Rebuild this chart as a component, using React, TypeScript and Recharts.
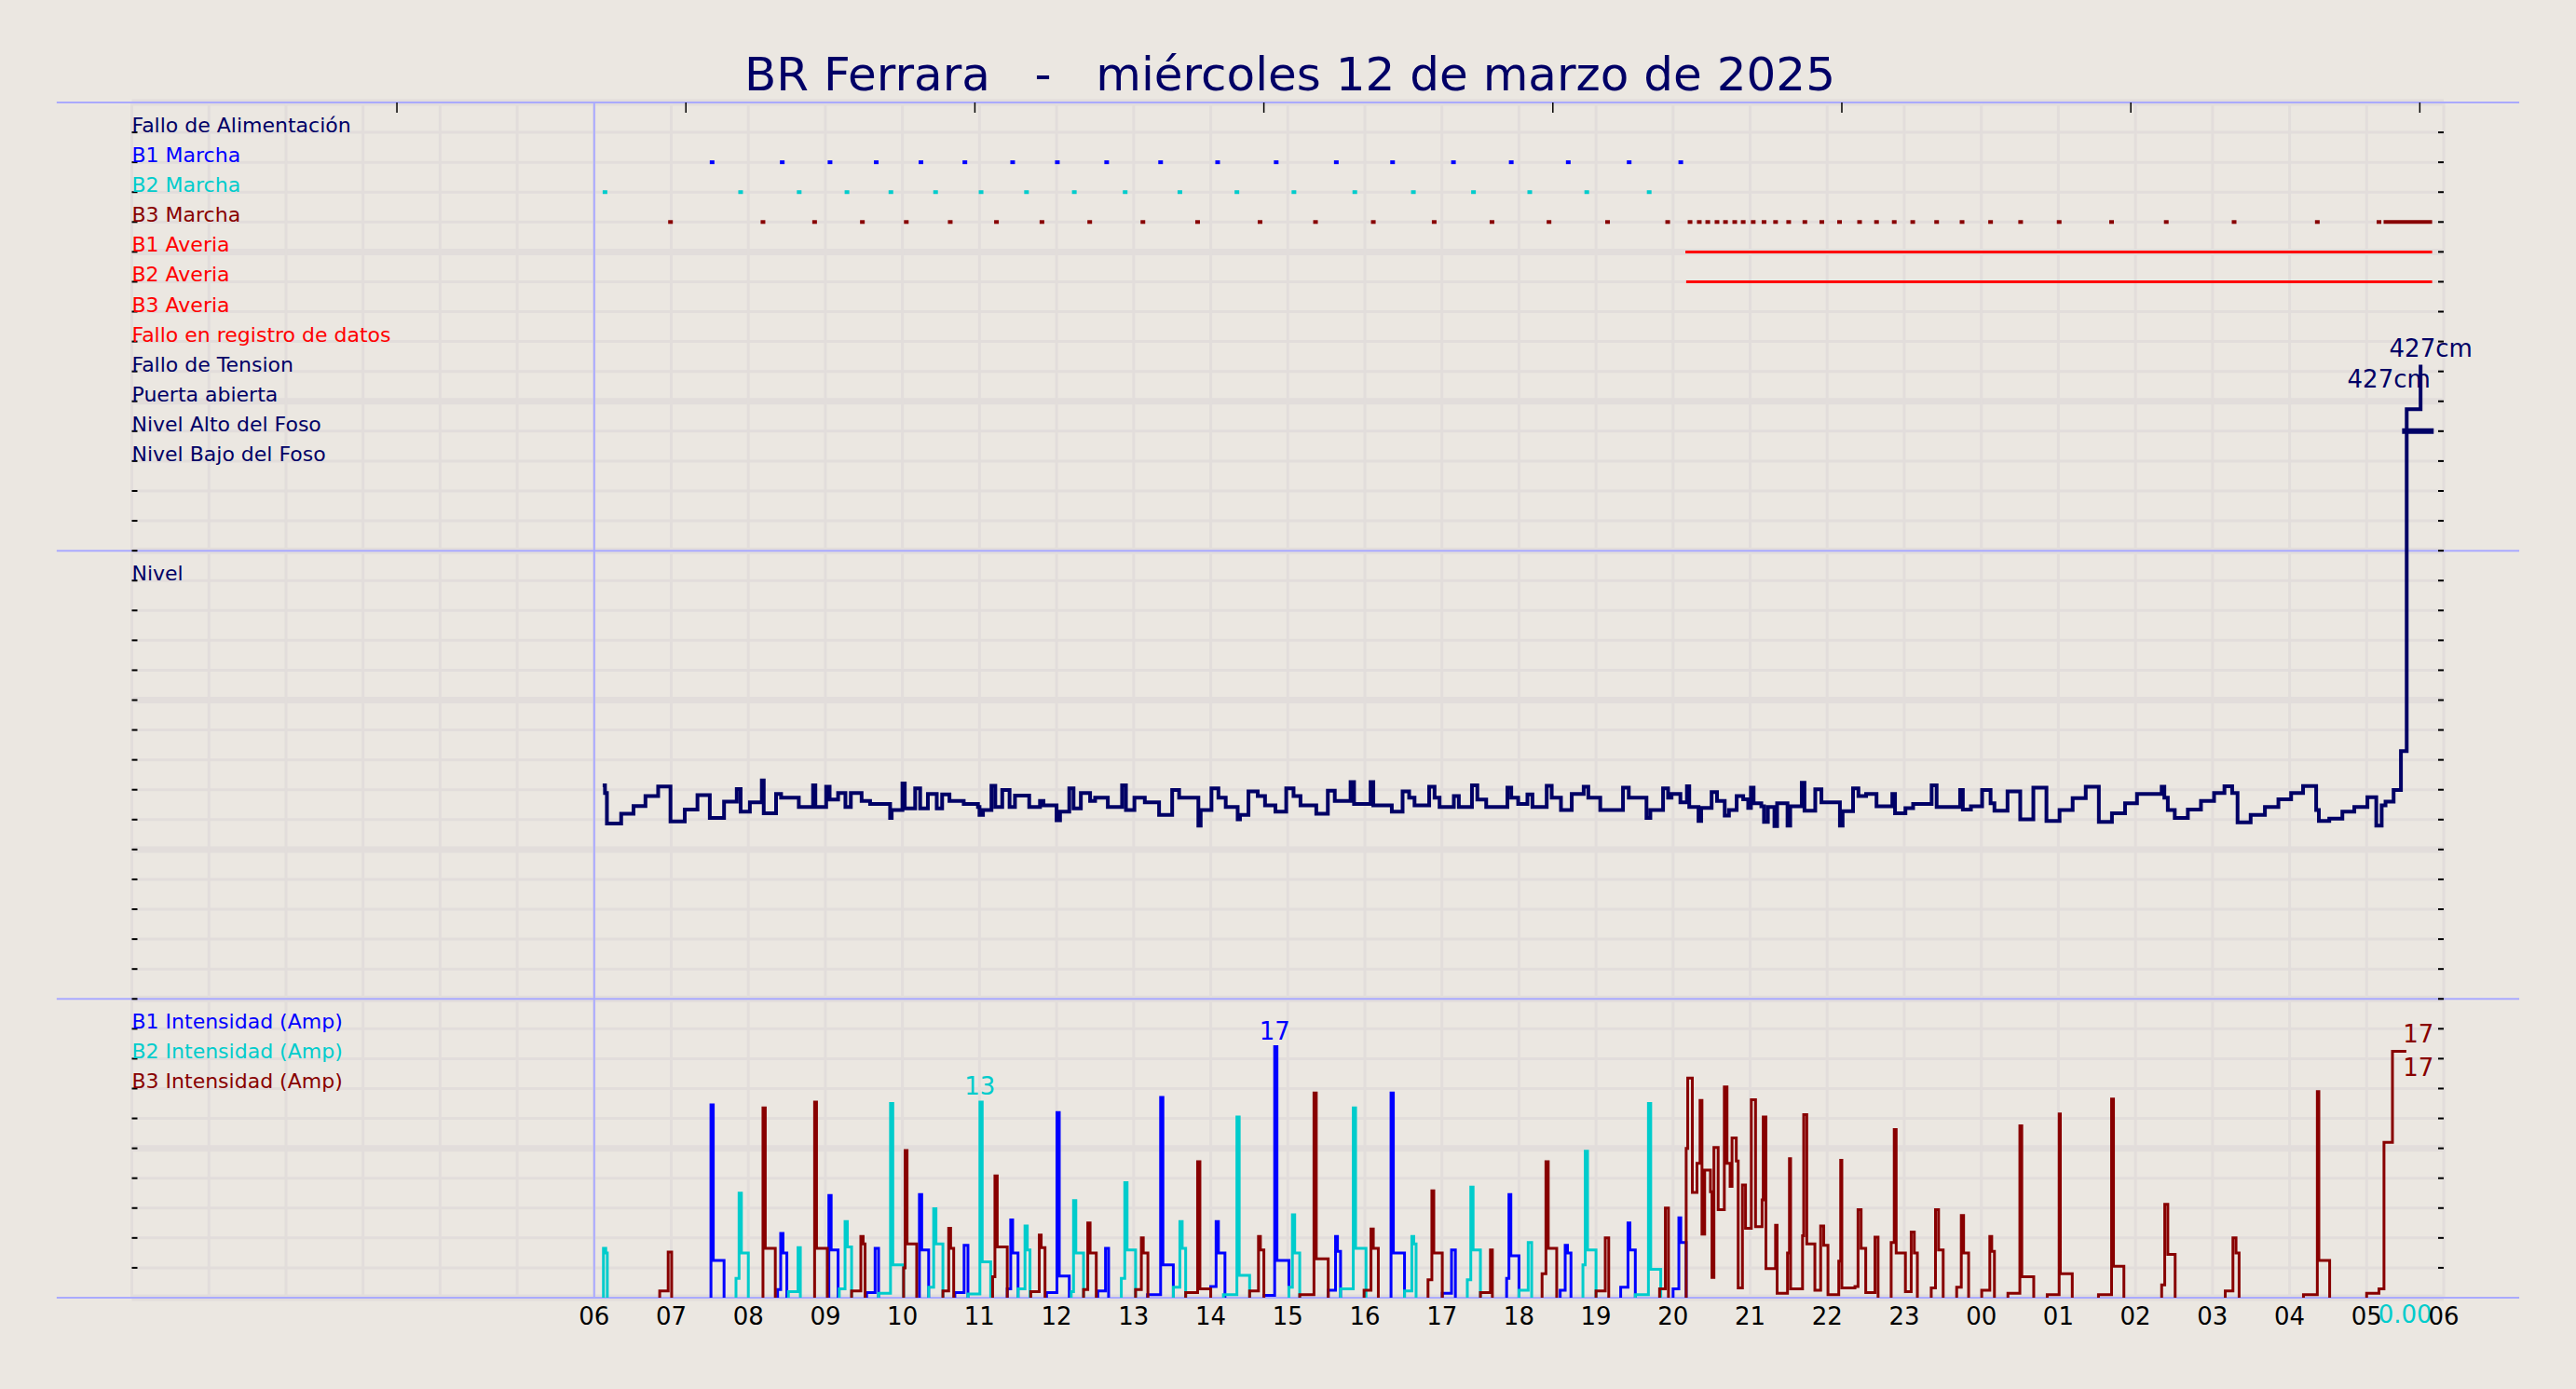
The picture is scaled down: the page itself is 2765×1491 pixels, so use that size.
import { ComposedChart, Line, Scatter, XAxis, YAxis, CartesianGrid, ReferenceLine, ReferenceDot } from "recharts"

const TITLE = "BR Ferrara   -   miércoles 12 de marzo de 2025"

const STATUS_LABELS = [
  "Fallo de Alimentación",
  "B1 Marcha",
  "B2 Marcha",
  "B3 Marcha",
  "B1 Averia",
  "B2 Averia",
  "B3 Averia",
  "Fallo en registro de datos",
  "Fallo de Tension",
  "Puerta abierta",
  "Nivel Alto del Foso",
  "Nivel Bajo del Foso",
]
const LEVEL_LABEL = "Nivel"
const INTENSITY_LABELS = ["B1 Intensidad (Amp)", "B2 Intensidad (Amp)", "B3 Intensidad (Amp)"]

// hours after 06:00
const HOUR_TICKS = [0, 1, 2, 3, 4, 5, 6, 7, 8, 9, 10, 11, 12, 13, 14, 15, 16, 17, 18, 19, 20, 21, 22, 23, 24]
const GRID_HOURS = [-6, -5, -4, -3, -2, -1, 0, 1, 2, 3, 4, 5, 6, 7, 8, 9, 10, 11, 12, 13, 14, 15, 16, 17, 18, 19, 20, 21, 22, 23, 24]
const TOP_TICKS = [-2.56, 1.19, 4.94, 8.69, 12.44, 16.19, 19.94, 23.69]

// pump running marks (hour)
const B1_MARCHA = [1.53, 2.44, 3.06, 3.66, 4.24, 4.81, 5.43, 6.01, 6.65, 7.35, 8.09, 8.85, 9.63, 10.36, 11.15, 11.9, 12.64, 13.43, 14.1]
const B2_MARCHA = [0.14, 1.9, 2.66, 3.28, 3.85, 4.43, 5.02, 5.61, 6.23, 6.89, 7.6, 8.34, 9.08, 9.87, 10.63, 11.41, 12.14, 12.88, 13.69]
const B3_MARCHA = [
  0.99, 2.19, 2.86, 3.48, 4.05, 4.62, 5.22, 5.81, 6.43, 7.12, 7.83, 8.64, 9.36, 10.11, 10.9, 11.65, 12.39, 13.15, 13.93,
  14.22, 14.34, 14.45, 14.57, 14.68, 14.8, 14.91, 15.04, 15.18, 15.33, 15.5, 15.71, 15.93, 16.16, 16.42, 16.64, 16.87,
  17.11, 17.42, 17.75, 18.12, 18.51, 19.01, 19.69, 20.4, 21.28, 22.36, 23.16,
]
// continuous states [from, to]
const B3_MARCHA_ON = [[23.22, 23.85]]
const B1_AVERIA = [[14.16, 23.85]]
const B2_AVERIA = [[14.17, 23.85]]
const NIVEL_ALTO = [[23.46, 23.87]]

// level [hour, cm]
const LEVEL = [
  [0.11, 234.5], [0.14, 231], [0.165, 217], [0.35, 221.5], [0.51, 225], [0.665, 229.6], [0.83, 234], [0.99, 218],
  [1.175, 223.4], [1.34, 230], [1.5, 219.6], [1.685, 227], [1.85, 232.8], [1.9, 222.4], [2.02, 226.7], [2.175, 236.7],
  [2.2, 221.7], [2.36, 230.5], [2.425, 228.8], [2.655, 224.6], [2.84, 234.5], [2.87, 224.6], [3.01, 233.8], [3.055, 228],
  [3.165, 231], [3.26, 224.6], [3.33, 231], [3.47, 227.4], [3.58, 226], [3.84, 219.6], [3.86, 223.2], [4.0, 235.3],
  [4.03, 223.9], [4.165, 233.1], [4.23, 223.9], [4.33, 230.5], [4.445, 223.9], [4.515, 230.3], [4.61, 227.4], [4.795, 226],
  [4.98, 224.6], [5.0, 221], [5.045, 223.2], [5.155, 234.3], [5.205, 224.6], [5.295, 232.4], [5.39, 224.6], [5.46, 229.8],
  [5.645, 224.6], [5.785, 227.4], [5.83, 225.3], [6.0, 218.5], [6.045, 222.4], [6.165, 233.1], [6.22, 223.9], [6.315, 231],
  [6.435, 227.4], [6.5, 228.8], [6.665, 224.6], [6.85, 234.5], [6.9, 223.2], [7.01, 228.8], [7.145, 226.7], [7.33, 221],
  [7.5, 232.4], [7.59, 228.8], [7.84, 216], [7.87, 223.2], [8.01, 233.1], [8.1, 228.8], [8.195, 224.6], [8.35, 218.9],
  [8.38, 221], [8.49, 231.7], [8.61, 229.6], [8.705, 225.3], [8.84, 222.4], [8.98, 233.1], [9.075, 229.6], [9.165, 225.3],
  [9.37, 221.5], [9.52, 232], [9.61, 227.4], [9.815, 236], [9.86, 226], [10.075, 236], [10.11, 225.3], [10.35, 222.4],
  [10.49, 231.7], [10.575, 228.8], [10.645, 225.3], [10.835, 233.8], [10.905, 228.8], [10.97, 224.6], [11.155, 229.6],
  [11.22, 224.6], [11.39, 234.5], [11.46, 228], [11.575, 224.6], [11.85, 233.4], [11.9, 228.8], [11.99, 226], [12.11, 230.3],
  [12.175, 224.6], [12.36, 234.3], [12.425, 228.8], [12.545, 223.2], [12.685, 230.5], [12.84, 233.8], [12.9, 228.8],
  [13.055, 223.2], [13.35, 233.4], [13.425, 228.8], [13.655, 219.6], [13.705, 223.2], [13.87, 233.1], [13.935, 228.8],
  [13.98, 230.5], [14.095, 226.7], [14.18, 234.1], [14.21, 224.6], [14.33, 218.2], [14.365, 224.1], [14.5, 231.4],
  [14.57, 227.4], [14.67, 220.6], [14.725, 223.2], [14.825, 229.6], [14.91, 228.1], [14.975, 224.1], [15.01, 233.4],
  [15.045, 226.3], [15.145, 224.9], [15.18, 217.8], [15.23, 224.6], [15.315, 215.8], [15.35, 226.3], [15.485, 216],
  [15.52, 224.9], [15.67, 235.7], [15.705, 222.9], [15.845, 232.7], [15.925, 226.7], [16.165, 216], [16.2, 222.7],
  [16.335, 233.1], [16.405, 229.6], [16.505, 230.5], [16.64, 224.9], [16.845, 230.5], [16.88, 221.7], [17.015, 224],
  [17.115, 226], [17.355, 234.5], [17.42, 224.6], [17.725, 232.4], [17.76, 223.4], [17.865, 224.9], [18.01, 232.4],
  [18.12, 226.3], [18.17, 222.9], [18.34, 231.7], [18.505, 218.9], [18.675, 233.4], [18.845, 218.2], [19.015, 223.2],
  [19.185, 228.6], [19.355, 233.8], [19.525, 217.8], [19.695, 221.7], [19.865, 226.3], [20.02, 230.5], [20.34, 233.8],
  [20.375, 228.8], [20.42, 223.2], [20.51, 219.6], [20.68, 223.4], [20.85, 227.4], [21.02, 231], [21.155, 234.1],
  [21.255, 231], [21.325, 217.5], [21.495, 221], [21.68, 224.6], [21.855, 228.1], [22.02, 231], [22.175, 234.2],
  [22.345, 223.2], [22.38, 218.2], [22.515, 219.2], [22.685, 222.4], [22.84, 224.6], [23.01, 229.1], [23.125, 216],
  [23.195, 225.3], [23.245, 227], [23.35, 232.4], [23.445, 250.2], [23.52, 406.6], [23.7, 427],
]

// pump current, one array per run: [hour, amp]
const B1_RUNS = [
  [[1.515, 12.9], [1.545, 2.5], [1.685, 0]],
  [[2.38, 0.55], [2.42, 4.3], [2.45, 3.0], [2.5, 0]],
  [[3.045, 6.85], [3.075, 3.2], [3.165, 0]],
  [[3.535, 0.35], [3.645, 3.3], [3.69, 0]],
  [[4.22, 6.9], [4.25, 3.2], [4.34, 0]],
  [[4.68, 0.35], [4.8, 3.5], [4.85, 0]],
  [[5.36, 0.6], [5.405, 5.2], [5.43, 3.0], [5.5, 0]],
  [[5.87, 0.35], [6.005, 12.4], [6.035, 1.45], [6.165, 0]],
  [[6.535, 0.45], [6.635, 3.3], [6.675, 0]],
  [[7.18, 0.2], [7.35, 13.4], [7.38, 2.2], [7.515, 0]],
  [[8.0, 0.75], [8.07, 5.1], [8.1, 3.0], [8.185, 0]],
  [[8.69, 0.15], [8.83, 16.8], [8.86, 2.5], [9.015, 0]],
  [[9.525, 0.5], [9.62, 4.1], [9.645, 3.1], [9.685, 0]],
  [[10.34, 13.7], [10.37, 3.0], [10.515, 0]],
  [[11.005, 0.3], [11.125, 3.2], [11.175, 0]],
  [[11.84, 1.3], [11.87, 6.9], [11.895, 2.8], [12.0, 0]],
  [[12.535, 0.5], [12.6, 3.5], [12.63, 3.0], [12.675, 0]],
  [[13.32, 0.7], [13.415, 5.0], [13.44, 3.2], [13.51, 0]],
  [[14.0, 0.6], [14.075, 5.35], [14.1, 3.7], [14.17, 0]],
]
const B2_RUNS = [
  [[0.12, 3.3], [0.15, 3.0], [0.17, 0]],
  [[1.84, 1.3], [1.88, 7.0], [1.91, 3.0], [2.0, 0]],
  [[2.52, 0.4], [2.645, 3.35], [2.675, 0]],
  [[3.18, 0.6], [3.255, 5.1], [3.285, 3.4], [3.34, 0]],
  [[3.69, 0.3], [3.845, 13.0], [3.875, 2.2], [4.015, 0]],
  [[4.34, 0.7], [4.405, 5.95], [4.435, 3.6], [4.525, 0]],
  [[4.85, 0.25], [5.005, 13.1], [5.035, 2.4], [5.145, 0]],
  [[5.5, 0.6], [5.59, 4.8], [5.62, 3.2], [5.655, 0]],
  [[6.19, 0.4], [6.22, 6.5], [6.25, 3.0], [6.35, 0]],
  [[6.84, 1.3], [6.885, 7.7], [6.915, 3.2], [7.025, 0]],
  [[7.515, 0.7], [7.6, 5.1], [7.63, 3.3], [7.675, 0]],
  [[8.165, 0.2], [8.34, 12.1], [8.37, 1.5], [8.505, 0]],
  [[9.015, 0.7], [9.06, 5.55], [9.09, 3.0], [9.155, 0]],
  [[9.685, 0.6], [9.85, 12.7], [9.88, 3.3], [10.015, 0]],
  [[10.515, 0.45], [10.61, 4.1], [10.635, 3.6], [10.665, 0]],
  [[11.33, 1.2], [11.375, 7.4], [11.405, 3.2], [11.5, 0]],
  [[12.0, 0.5], [12.12, 3.7], [12.165, 0]],
  [[12.83, 2.2], [12.86, 9.8], [12.89, 3.2], [13.0, 0]],
  [[13.51, 0.2], [13.68, 13.0], [13.71, 1.9], [13.84, 0]],
]
const B3_RUNS = [
  [[0.85, 0.45], [0.96, 3.05], [1.005, 0]],
  [[2.19, 12.7], [2.22, 3.3], [2.35, 0]],
  [[2.86, 13.1], [2.885, 3.3], [3.025, 0]],
  [[3.34, 0.45], [3.46, 4.1], [3.49, 3.6], [3.515, 0]],
  [[4.015, 2.0], [4.035, 9.85], [4.06, 3.6], [4.185, 0]],
  [[4.525, 0.45], [4.6, 4.65], [4.625, 3.3], [4.665, 0]],
  [[5.17, 1.4], [5.2, 8.15], [5.23, 3.4], [5.36, 0]],
  [[5.665, 0.4], [5.775, 4.2], [5.8, 3.35], [5.85, 0]],
  [[6.35, 0.55], [6.405, 5.0], [6.435, 3.0], [6.515, 0]],
  [[7.025, 0.55], [7.1, 4.0], [7.125, 3.0], [7.185, 0]],
  [[7.675, 0.35], [7.83, 9.1], [7.86, 0.6], [8.0, 0]],
  [[8.505, 0.45], [8.62, 4.1], [8.645, 3.2], [8.69, 0]],
  [[9.155, 0.2], [9.34, 13.7], [9.37, 2.6], [9.525, 0]],
  [[9.99, 0.5], [10.08, 4.6], [10.11, 3.3], [10.175, 0]],
  [[10.82, 1.2], [10.87, 7.15], [10.895, 3.0], [11.005, 0]],
  [[11.5, 0.35], [11.63, 3.2], [11.655, 0]],
  [[12.3, 1.6], [12.35, 9.1], [12.38, 3.3], [12.49, 0]],
  [[13.0, 0.45], [13.12, 4.0], [13.165, 0]],
  [[13.825, 0.6], [13.9, 6.0], [13.94, 0]],
  [
    [14.17, 10.0], [14.19, 14.7], [14.25, 7.05], [14.31, 9.0], [14.35, 13.2], [14.375, 4.25], [14.41, 8.55],
    [14.485, 7.1], [14.505, 1.35], [14.53, 10.05], [14.585, 5.9], [14.665, 14.1], [14.7, 9.0], [14.74, 7.45],
    [14.765, 10.7], [14.82, 9.15], [14.845, 0.65], [14.9, 7.55], [14.94, 4.65], [15.015, 13.25], [15.07, 4.75],
    [15.155, 6.55], [15.17, 12.1], [15.205, 1.95], [15.33, 4.85], [15.35, 0.3], [15.485, 3.0], [15.51, 9.3],
    [15.525, 0.6], [15.68, 4.15], [15.695, 12.25], [15.735, 3.6], [15.84, 0.5], [15.915, 4.8], [15.955, 3.5],
    [16.01, 0.2], [16.15, 2.45], [16.175, 9.2], [16.19, 0.65], [16.36, 0.75], [16.4, 5.9], [16.44, 3.3],
    [16.5, 0.35], [16.62, 4.05], [16.66, 0],
  ],
  [[16.83, 3.7], [16.87, 11.25], [16.895, 3.0], [17.015, 0.4], [17.09, 4.4], [17.13, 3.0], [17.17, 0]],
  [[17.35, 0.65], [17.405, 5.9], [17.445, 3.2], [17.505, 0]],
  [[17.68, 0.7], [17.74, 5.5], [17.77, 3.0], [17.835, 0]],
  [[18.005, 0.5], [18.11, 4.1], [18.135, 3.1], [18.17, 0]],
  [[18.345, 0.3], [18.5, 11.5], [18.525, 1.4], [18.68, 0]],
  [[18.855, 0.2], [19.01, 12.3], [19.025, 1.6], [19.18, 0]],
  [[19.52, 0.2], [19.69, 13.3], [19.715, 2.1], [19.85, 0]],
  [[20.34, 0.85], [20.38, 6.25], [20.42, 2.9], [20.515, 0]],
  [[21.165, 0.45], [21.265, 4.0], [21.305, 3.0], [21.345, 0]],
  [[22.18, 0.2], [22.36, 13.8], [22.38, 2.5], [22.52, 0]],
  [[23.0, 0.3], [23.16, 0.6], [23.225, 10.4], [23.335, 16.5], [23.515, 16.5]],
]
const LAST_READ = 23.5
const B2_LAST = 0

const W = 2765
const H = 1491
const FONT = "DejaVu Sans"
const BG = "#ebe7e1"
const GRID = "#e2dddb"
const FRAME = "#aaaaff"
const NAVY = "#000066"
const BLUE = "#0000ff"
const CYAN = "#00cccc"
const DARKRED = "#880000"
const RED = "#ff0000"

const STATUS_COLORS = [NAVY, BLUE, CYAN, DARKRED, RED, RED, RED, RED, NAVY, NAVY, NAVY, NAVY]
const INTENSITY_COLORS = [BLUE, CYAN, DARKRED]

const ROW_TICKS = Array.from({ length: 39 }, (_, i) => i + 1)
const BAND_TICKS = [0, 5, 10, 15, 20, 25, 30, 35, 40]
const FRAME_ROWS = [0, 10, 25, 40]
const FRAME_X = [-6.975, 24.98]

const fmtHour = (h: number) => String((h + 6) % 24).padStart(2, "0")
const noLabel = () => ""

const runsToSeries = (runs: number[][][]) =>
  runs.flatMap((run) => [
    { x: run[0][0], y: 0 },
    ...run.map(([x, y]) => ({ x, y })),
    { x: run[run.length - 1][0], y: null },
  ])

const spans = (list: number[][], row: number) =>
  list.flatMap(([a, b]) => [{ x: a, y: row }, { x: b, y: row }, { x: b, y: null }])

const marks = (list: number[], row: number) => list.map((x) => ({ x, y: row }))

const maxPoint = (runs: number[][][]) => runs.flat().reduce((a, b) => (b[1] > a[1] ? b : a))

const markShape = (color: string) => (p: any) => (
  <rect x={p.cx - 2.5} y={p.cy - 2} width={5} height={4} fill={color} />
)

const textShape = (items: { text: string; dx: number; dy: number; color: string; size: number; anchor?: string }[]) =>
  (p: any) => (
    <g>
      {items.map((t, i) => (
        <text
          key={i}
          x={p.cx + t.dx}
          y={p.cy + t.dy}
          fill={t.color}
          fontSize={t.size}
          fontFamily={FONT}
          textAnchor={t.anchor ?? "start"}
        >
          {t.text}
        </text>
      ))}
    </g>
  )

export default function App() {
  const levelData = LEVEL.map(([x, y]) => ({ x, y }))
  const levelLast = LEVEL[LEVEL.length - 1]
  const b1Max = maxPoint(B1_RUNS)
  const b2Max = maxPoint(B2_RUNS)
  const b3Flat = B3_RUNS.flat()
  const b3Last = b3Flat[b3Flat.length - 1]

  const rowLabels = [
    ...STATUS_LABELS.map((text, i) => ({ text, row: 39 - i, color: STATUS_COLORS[i] })),
    { text: LEVEL_LABEL, row: 24, color: NAVY },
    ...INTENSITY_LABELS.map((text, i) => ({ text, row: 9 - i, color: INTENSITY_COLORS[i] })),
  ]

  return (
    <div style={{ position: "relative", width: W, height: H, background: BG }}>
      <style>{`body{margin:0;background:${BG}}`}</style>
      <ComposedChart width={W} height={H} margin={{ top: 110, right: 142, bottom: 97, left: 141.5 }}>
        <XAxis
          xAxisId={0}
          dataKey="x"
          type="number"
          domain={[-6, 24]}
          allowDataOverflow
          ticks={HOUR_TICKS}
          interval={0}
          tickFormatter={fmtHour}
          height={1}
          tickSize={0}
          tickMargin={11}
          axisLine={false}
          tickLine={false}
          tick={{ fill: "#000", fontSize: 26, fontFamily: FONT }}
        />
        <XAxis xAxisId="grid" dataKey="x" type="number" domain={[-6, 24]} allowDataOverflow ticks={GRID_HOURS} interval={0} hide />
        <XAxis
          xAxisId="top"
          orientation="top"
          dataKey="x"
          type="number"
          domain={[-6, 24]}
          allowDataOverflow
          ticks={TOP_TICKS}
          interval={0}
          height={1}
          mirror
          tickFormatter={noLabel}
          tickSize={11}
          tickLine={{ stroke: "#000", strokeWidth: 1.5 }}
          axisLine={false}
        />
        <YAxis
          yAxisId="row"
          dataKey="y"
          type="number"
          domain={[0, 40]}
          allowDataOverflow
          ticks={ROW_TICKS}
          interval={0}
          width={1}
          mirror
          tickFormatter={noLabel}
          tickSize={6}
          tickLine={{ stroke: "#000", strokeWidth: 2 }}
          axisLine={false}
        />
        <YAxis
          yAxisId="rowR"
          orientation="right"
          type="number"
          domain={[0, 40]}
          allowDataOverflow
          ticks={ROW_TICKS}
          interval={0}
          width={1}
          mirror
          tickFormatter={noLabel}
          tickSize={6}
          tickLine={{ stroke: "#000", strokeWidth: 2 }}
          axisLine={false}
        />
        <YAxis yAxisId="rowGrid" type="number" domain={[0, 40]} allowDataOverflow ticks={ROW_TICKS} interval={0} hide />
        <YAxis yAxisId="band" type="number" domain={[0, 40]} allowDataOverflow ticks={BAND_TICKS} interval={0} hide />
        <YAxis yAxisId="lvl" type="number" domain={[0, 547]} allowDataOverflow hide />
        <YAxis yAxisId="amp" type="number" domain={[0, 80]} allowDataOverflow hide />

        <CartesianGrid xAxisId="grid" yAxisId="band" vertical={false} stroke={GRID} strokeWidth={7} />
        <CartesianGrid xAxisId="grid" yAxisId="rowGrid" stroke={GRID} strokeWidth={3} />

        {FRAME_ROWS.map((r) => (
          <ReferenceLine
            key={r}
            xAxisId={0}
            yAxisId="row"
            segment={[{ x: FRAME_X[0], y: r }, { x: FRAME_X[1], y: r }]}
            ifOverflow="visible"
            stroke={FRAME}
            strokeWidth={2}
          />
        ))}
        <ReferenceLine xAxisId={0} yAxisId="row" x={0} stroke={FRAME} strokeWidth={2} />

        {/* status rows */}
        <Line data={spans(B1_AVERIA, 35)} dataKey="y" xAxisId={0} yAxisId="row" type="linear" stroke={RED} strokeWidth={3} dot={false} activeDot={false} isAnimationActive={false} />
        <Line data={spans(B2_AVERIA, 34)} dataKey="y" xAxisId={0} yAxisId="row" type="linear" stroke={RED} strokeWidth={3} dot={false} activeDot={false} isAnimationActive={false} />
        <Line data={spans(B3_MARCHA_ON, 36)} dataKey="y" xAxisId={0} yAxisId="row" type="linear" stroke={DARKRED} strokeWidth={4} dot={false} activeDot={false} isAnimationActive={false} />
        <Line data={spans(NIVEL_ALTO, 29)} dataKey="y" xAxisId={0} yAxisId="row" type="linear" stroke={NAVY} strokeWidth={6} dot={false} activeDot={false} isAnimationActive={false} />
        <Scatter data={marks(B1_MARCHA, 38)} dataKey="y" xAxisId={0} yAxisId="row" shape={markShape(BLUE)} isAnimationActive={false} />
        <Scatter data={marks(B2_MARCHA, 37)} dataKey="y" xAxisId={0} yAxisId="row" shape={markShape(CYAN)} isAnimationActive={false} />
        <Scatter data={marks(B3_MARCHA, 36)} dataKey="y" xAxisId={0} yAxisId="row" shape={markShape(DARKRED)} isAnimationActive={false} />

        {/* level */}
        <Line data={levelData} dataKey="y" xAxisId={0} yAxisId="lvl" type="stepAfter" stroke={NAVY} strokeWidth={4} dot={false} activeDot={false} isAnimationActive={false} />

        {/* currents */}
        <Line data={runsToSeries(B1_RUNS)} dataKey="y" xAxisId={0} yAxisId="amp" type="stepAfter" stroke={BLUE} strokeWidth={3} dot={false} activeDot={false} isAnimationActive={false} />
        <Line data={runsToSeries(B2_RUNS)} dataKey="y" xAxisId={0} yAxisId="amp" type="stepAfter" stroke={CYAN} strokeWidth={3} dot={false} activeDot={false} isAnimationActive={false} />
        <Line data={runsToSeries(B3_RUNS)} dataKey="y" xAxisId={0} yAxisId="amp" type="stepAfter" stroke={DARKRED} strokeWidth={3} dot={false} activeDot={false} isAnimationActive={false} />

        {rowLabels.map((l) => (
          <ReferenceDot
            key={l.text}
            xAxisId={0}
            yAxisId="row"
            x={-6}
            y={l.row}
            r={0}
            ifOverflow="visible"
            shape={textShape([{ text: l.text, dx: 0, dy: 0, color: l.color, size: 22 }])}
          />
        ))}

        <ReferenceDot
          xAxisId={0}
          yAxisId="lvl"
          x={levelLast[0]}
          y={levelLast[1]}
          r={0}
          ifOverflow="visible"
          shape={textShape([
            { text: `${levelLast[1]}cm`, dx: 11, dy: -8, color: NAVY, size: 26, anchor: "middle" },
            { text: `${levelLast[1]}cm`, dx: -34, dy: 25, color: NAVY, size: 26, anchor: "middle" },
          ])}
        />
        <ReferenceDot
          xAxisId={0}
          yAxisId="amp"
          x={b1Max[0]}
          y={b1Max[1]}
          r={0}
          ifOverflow="visible"
          shape={textShape([{ text: String(Math.round(b1Max[1])), dx: 0, dy: -8, color: BLUE, size: 26, anchor: "middle" }])}
        />
        <ReferenceDot
          xAxisId={0}
          yAxisId="amp"
          x={b2Max[0]}
          y={b2Max[1]}
          r={0}
          ifOverflow="visible"
          shape={textShape([{ text: String(Math.round(b2Max[1])), dx: 0, dy: -8, color: CYAN, size: 26, anchor: "middle" }])}
        />
        <ReferenceDot
          xAxisId={0}
          yAxisId="amp"
          x={b3Last[0]}
          y={b3Last[1]}
          r={0}
          ifOverflow="visible"
          shape={textShape([
            { text: String(Math.round(b3Last[1])), dx: 13, dy: -9, color: DARKRED, size: 26, anchor: "middle" },
            { text: String(Math.round(b3Last[1])), dx: 13, dy: 27, color: DARKRED, size: 26, anchor: "middle" },
          ])}
        />
        <ReferenceDot
          xAxisId={0}
          yAxisId="amp"
          x={LAST_READ}
          y={B2_LAST}
          r={0}
          ifOverflow="visible"
          shape={textShape([{ text: B2_LAST.toFixed(2), dx: 0, dy: 27, color: CYAN, size: 26, anchor: "middle" }])}
        />
      </ComposedChart>
      <svg width={W} height={130} style={{ position: "absolute", left: 0, top: 0, pointerEvents: "none" }}>
        <text x={1384.5} y={97} fill={NAVY} fontSize={50} fontFamily={FONT} textAnchor="middle" style={{ whiteSpace: "pre" }}>
          {TITLE}
        </text>
      </svg>
    </div>
  )
}
